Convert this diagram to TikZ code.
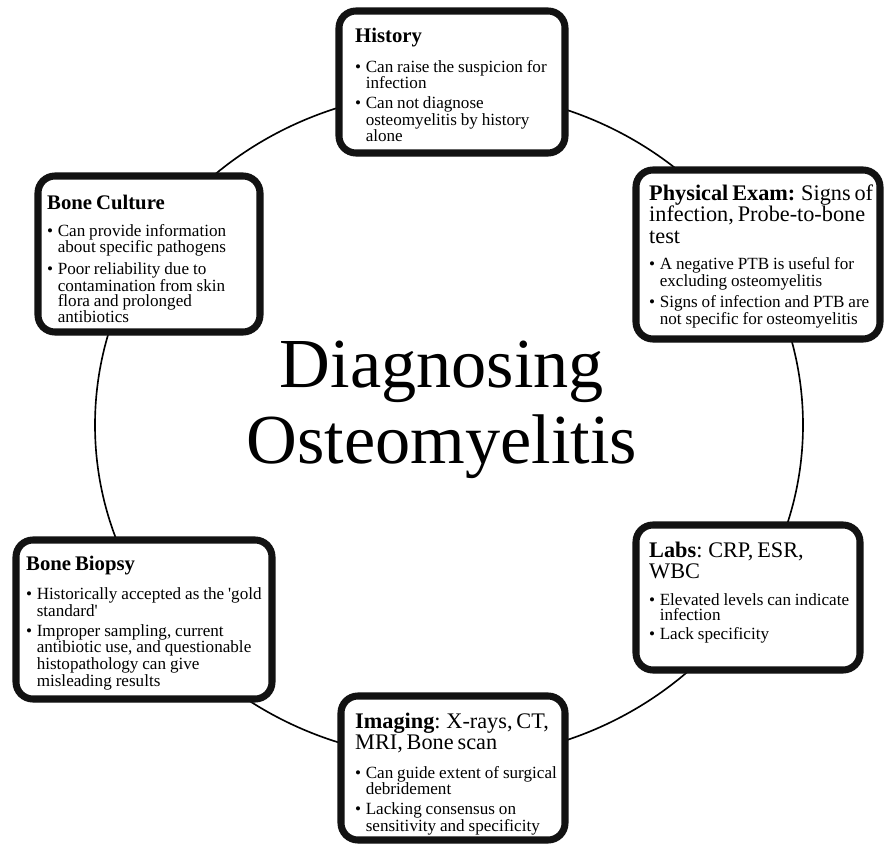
\documentclass[tikz,border=0pt]{standalone}
\usepackage{fontspec}
\setmainfont{Liberation Serif}
\usetikzlibrary{shadows}

\newcommand{\boxtitle}[1]{{\fontsize{17.7}{18}\selectfont\bfseries #1\par}\vspace{10pt}}
\newcommand{\boxhead}[1]{{\fontsize{19}{18}\selectfont #1\par}\vspace{10pt}}
\newcommand{\bitem}[1]{{\fontsize{14.6}{12.6}\selectfont\hangindent=9pt\hangafter=1\noindent\makebox[9pt][l]{\textbullet}#1\par}\vspace{4pt}}

\begin{document}
\begin{tikzpicture}[x=0.03cm,y=-0.03cm]
\tikzset{
  infobox/.style={rectangle,draw=black!93,fill=white,line width=6pt,rounded corners=14.5pt,
    drop shadow={shadow xshift=0pt,shadow yshift=-3pt,opacity=0.22}},
  boxtext/.style={anchor=north west,inner sep=0pt,text width=8cm,align=left},
  ring/.style={draw=black,line width=1.4pt}
}
\fill[white] (0,0) rectangle (890,845);
\useasboundingbox (0,0) rectangle (890,845);
\coordinate (c_mid) at (449,425);
\draw[ring] (c_mid) ellipse [x radius=354,y radius=334];
% the six boxes
\node[infobox,minimum width=6.78cm,minimum height=4.26cm] (n_hist) at (452,82) {};
\node[infobox,minimum width=7.32cm,minimum height=5.07cm] (n_exam) at (758,254.5) {};
\node[infobox,minimum width=6.72cm,minimum height=4.35cm] (n_labs) at (748,597.5) {};
\node[infobox,minimum width=6.72cm,minimum height=4.32cm] (n_img) at (453,768) {};
\node[infobox,minimum width=7.68cm,minimum height=4.77cm] (n_biop) at (144,619.5) {};
\node[infobox,minimum width=6.66cm,minimum height=4.68cm] (n_cult) at (149,254) {};
% box texts
\node[boxtext] (t_hist) at (355,28) {\boxtitle{History}%
  \bitem{Can raise the suspicion for\newline infection}%
  \bitem{Can not diagnose\newline osteomyelitis by history\newline alone}};
\node[boxtext] (t_exam) at (649,185) {\boxhead{\textbf{Physical Exam:} Signs of\newline infection, Probe-to-bone\newline test}%
  \bitem{A negative PTB is useful for\newline excluding osteomyelitis}%
  \bitem{Signs of infection and PTB are\newline not specific for osteomyelitis}};
\node[boxtext] (t_labs) at (649,542) {\boxhead{\textbf{Labs}: CRP, ESR,\newline WBC}%
  \bitem{Elevated levels can indicate\newline infection}%
  \bitem{Lack specificity}};
\node[boxtext] (t_img) at (355,713) {\boxhead{\textbf{Imaging}: X-rays, CT,\newline MRI, Bone scan}%
  \bitem{Can guide extent of surgical\newline debridement}%
  \bitem{Lacking consensus on\newline sensitivity and specificity}};
\node[boxtext] (t_biop) at (26,556) {\boxtitle{Bone Biopsy}%
  \bitem{Historically accepted as the \textquotesingle gold\newline standard\textquotesingle}%
  \bitem{Improper sampling, current\newline antibiotic use, and questionable\newline histopathology can give\newline misleading results}};
\node[boxtext] (t_cult) at (47,195) {\boxtitle{Bone Culture}%
  \bitem{Can provide information\newline about specific pathogens}%
  \bitem{Poor reliability due to\newline contamination from skin\newline flora and prolonged\newline antibiotics}};
% centre title
\node[font=\fontsize{60}{65}\selectfont,align=center] (n_title) at (442,410) {Diagnosing\\Osteomyelitis};
\end{tikzpicture}
\end{document}
